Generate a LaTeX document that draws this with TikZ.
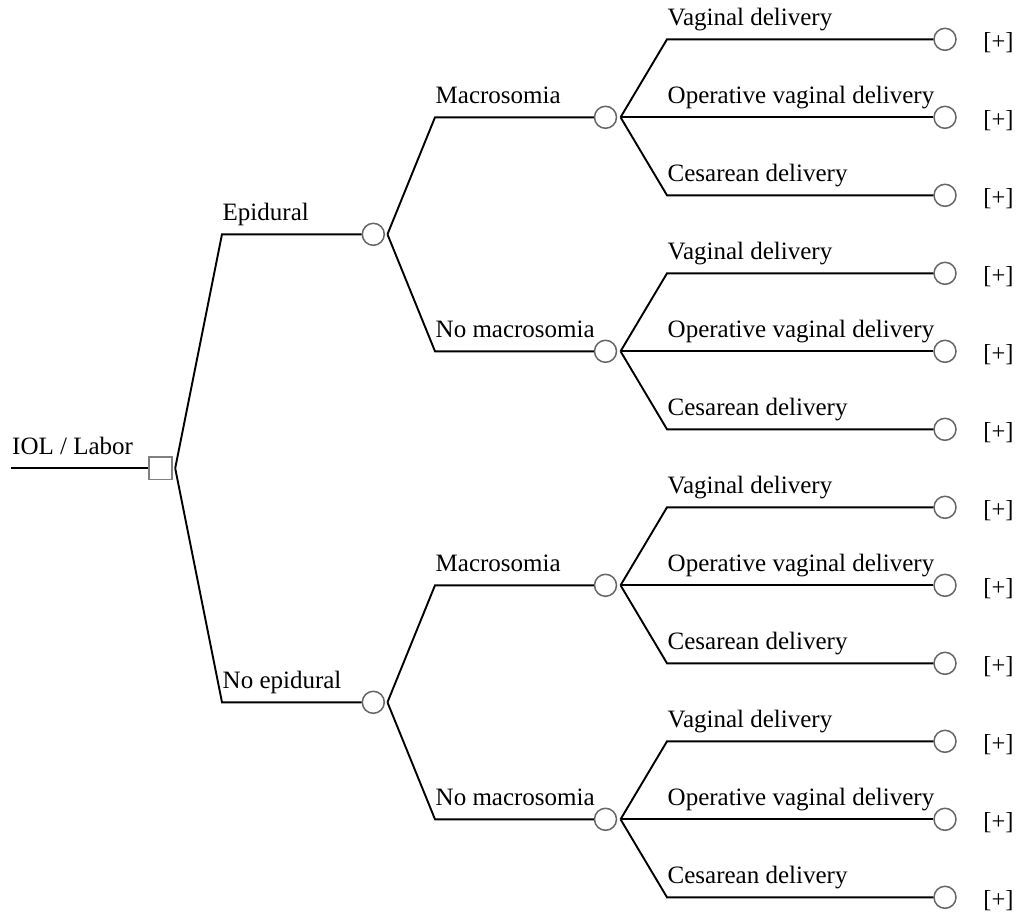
\documentclass[tikz,border=0pt]{standalone}
\usepackage{fontspec}
\setmainfont{Liberation Serif}
\begin{document}
\begin{tikzpicture}[x=1pt,y=-1pt,
  edge/.style={line width=1.9pt, black},
  chance/.style={circle, draw=black!60, line width=1.5pt, minimum size=22pt, inner sep=0pt},
  decision/.style={rectangle, draw=black!50, line width=1.7pt, minimum size=22.5pt, inner sep=0pt},
  lbl/.style={anchor=base west, inner sep=0pt, font=\fontsize{25}{29}\selectfont},
  plus/.style={anchor=center, inner sep=0pt, font=\fontsize{24.5}{29}\selectfont}]
\useasboundingbox (0,0) rectangle (1018,918);
% root
\node[decision] (root) at (160.5,468.3) {};
\coordinate (start) at (11,468.3);
\draw[edge] (start) -- (root.west);
\node[lbl] (rootlbl) at (12,454.3) {IOL / Labor};
% epidural level
\node[chance] (e1) at (373.3,234.3) {};
\node[chance] (e2) at (373.3,702.3) {};
\coordinate (e1b) at (222,234.3);
\coordinate (e2b) at (222,702.3);
\draw[edge] ([xshift=2.6pt]root.east) -- (e1b) -- (e1.west);
\draw[edge] ([xshift=2.6pt]root.east) -- (e2b) -- (e2.west);
\node[lbl] (e1l) at (222.5,220.3) {Epidural};
\node[lbl] (e2l) at (222.5,688.3) {No epidural};
% macrosomia level and terminals
\foreach \g/\pa/\lab in {0/e1/Macrosomia, 1/e1/No macrosomia, 2/e2/Macrosomia, 3/e2/No macrosomia} {
  \pgfmathsetmacro\yy{39.3+78*(3*\g+1)}
  \node[chance] (m\g) at (605.5,\yy) {};
  \coordinate (mb\g) at (435,\yy);
  \draw[edge] ([xshift=2.4pt]\pa.east) -- (mb\g) -- (m\g.west);
  \node[lbl] (ml\g) at (435.5,\yy-14) {\lab};
  \foreach \j/\tl in {0/Vaginal delivery, 1/Operative vaginal delivery, 2/Cesarean delivery} {
    \pgfmathtruncatemacro\k{3*\g+\j}
    \pgfmathsetmacro\ty{39.3+78*\k}
    \node[chance] (t\k) at (945,\ty) {};
    \coordinate (tb\k) at (667,\ty);
    \draw[edge] ([xshift=3.3pt]m\g.east) -- (tb\k) -- (t\k.west);
    \node[lbl] (tl\k) at (667.5,\ty-14) {\tl};
    \node[plus] (p\k) at (998.5,\ty+3) {[+]};
  }
}
\end{tikzpicture}
\end{document}
